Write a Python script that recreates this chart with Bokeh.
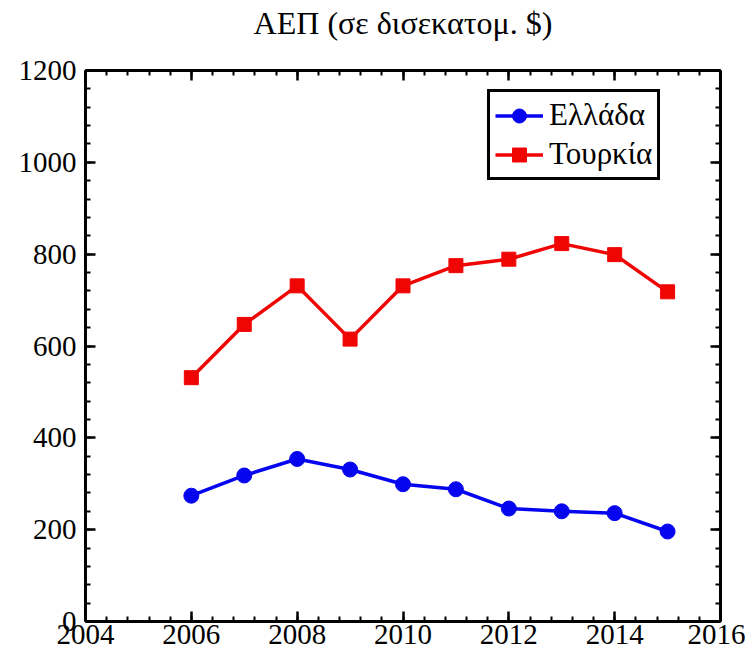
from bokeh.plotting import figure
from bokeh.models import (Range1d, SingleIntervalTicker, LinearAxis, Legend, LegendItem, Title,
                          CustomJSTickFormatter)
from bokeh.embed import file_html
from bokeh.resources import INLINE

years = [2006, 2007, 2008, 2009, 2010, 2011, 2012, 2013, 2014, 2015]
greece = [274, 318, 354, 331, 299, 288, 246, 240, 236, 196]
turkey = [531, 647, 731, 615, 731, 775, 789, 823, 799, 718]
title_text = "ΑΕΠ (σε δισεκατομ. $)"
label_greece = "Ελλάδα"
label_turkey = "Τουρκία"

FONT = "Liberation Serif"
BLUE = "#0505f0"
RED = "#f00505"

p = figure(width=745, height=650, output_backend="svg", toolbar_location=None,
           x_range=Range1d(2004, 2016), y_range=Range1d(0, 1200),
           min_border_left=85, min_border_right=25, min_border_bottom=29, min_border_top=0)
p.title = Title(text=title_text, align="center", vertical_align="top", text_font=FONT,
                text_font_size="32px", text_font_style="normal", text_color="black", standoff=8)
p.outline_line_color = None
p.xgrid.visible = False
p.ygrid.visible = False
p.background_fill_color = "white"
p.border_fill_color = "white"

def style_axis(ax, labels=True):
    ax.axis_line_width = 3
    ax.axis_line_color = "black"
    ax.major_tick_in = 10
    ax.major_tick_out = 0
    ax.minor_tick_in = 5
    ax.minor_tick_out = 0
    ax.major_tick_line_width = 2.5
    ax.minor_tick_line_width = 2
    ax.major_tick_line_color = "black"
    ax.minor_tick_line_color = "black"
    ax.major_label_text_font = FONT
    ax.major_label_text_font_size = "29px"
    ax.major_label_text_color = "black"
    if not labels:
        ax.formatter = CustomJSTickFormatter(code="return '';")
        ax.major_label_standoff = 0

p.xaxis.ticker = SingleIntervalTicker(interval=2, num_minor_ticks=5)
p.yaxis.ticker = SingleIntervalTicker(interval=200, num_minor_ticks=5)
style_axis(p.xaxis[0])
style_axis(p.yaxis[0])
p.xaxis[0].major_label_standoff = 3
p.yaxis[0].major_label_standoff = 9

top = LinearAxis(ticker=SingleIntervalTicker(interval=2, num_minor_ticks=5))
right = LinearAxis(ticker=SingleIntervalTicker(interval=200, num_minor_ticks=5))
style_axis(top, labels=False)
style_axis(right, labels=False)
p.add_layout(top, "above")
p.add_layout(right, "right")

# invisible spacer between the title and the frame
spacer = LinearAxis(ticker=SingleIntervalTicker(interval=2, num_minor_ticks=0))
spacer.formatter = CustomJSTickFormatter(code="return '';")
spacer.axis_line_color = None
spacer.major_tick_line_color = None
spacer.minor_tick_line_color = None
spacer.major_tick_in = 0
spacer.major_tick_out = 24
spacer.minor_tick_out = 0
spacer.major_label_standoff = 0
p.add_layout(spacer, "above")

gl = p.line(years, greece, line_color=BLUE, line_width=3.5)
gm = p.scatter(years, greece, marker="circle", size=15, fill_color=BLUE, line_color=BLUE)
tl = p.line(years, turkey, line_color=RED, line_width=3.5)
tm = p.scatter(years, turkey, marker="square", size=14, fill_color=RED, line_color=RED)

legend = Legend(items=[LegendItem(label=label_greece, renderers=[gl, gm]),
                       LegendItem(label=label_turkey, renderers=[tl, tm])],
                location=(402, 441))
legend.label_text_font = FONT
legend.label_text_font_size = "31px"
legend.label_text_color = "black"
legend.border_line_color = "black"
legend.border_line_alpha = 1
legend.border_line_width = 3
legend.glyph_width = 48
legend.glyph_height = 35
legend.label_height = 35
legend.label_standoff = 6
legend.padding = 5
legend.spacing = 3
legend.margin = 0
legend.background_fill_alpha = 1
p.add_layout(legend)

open("out.html", "w").write(file_html(p, INLINE))
